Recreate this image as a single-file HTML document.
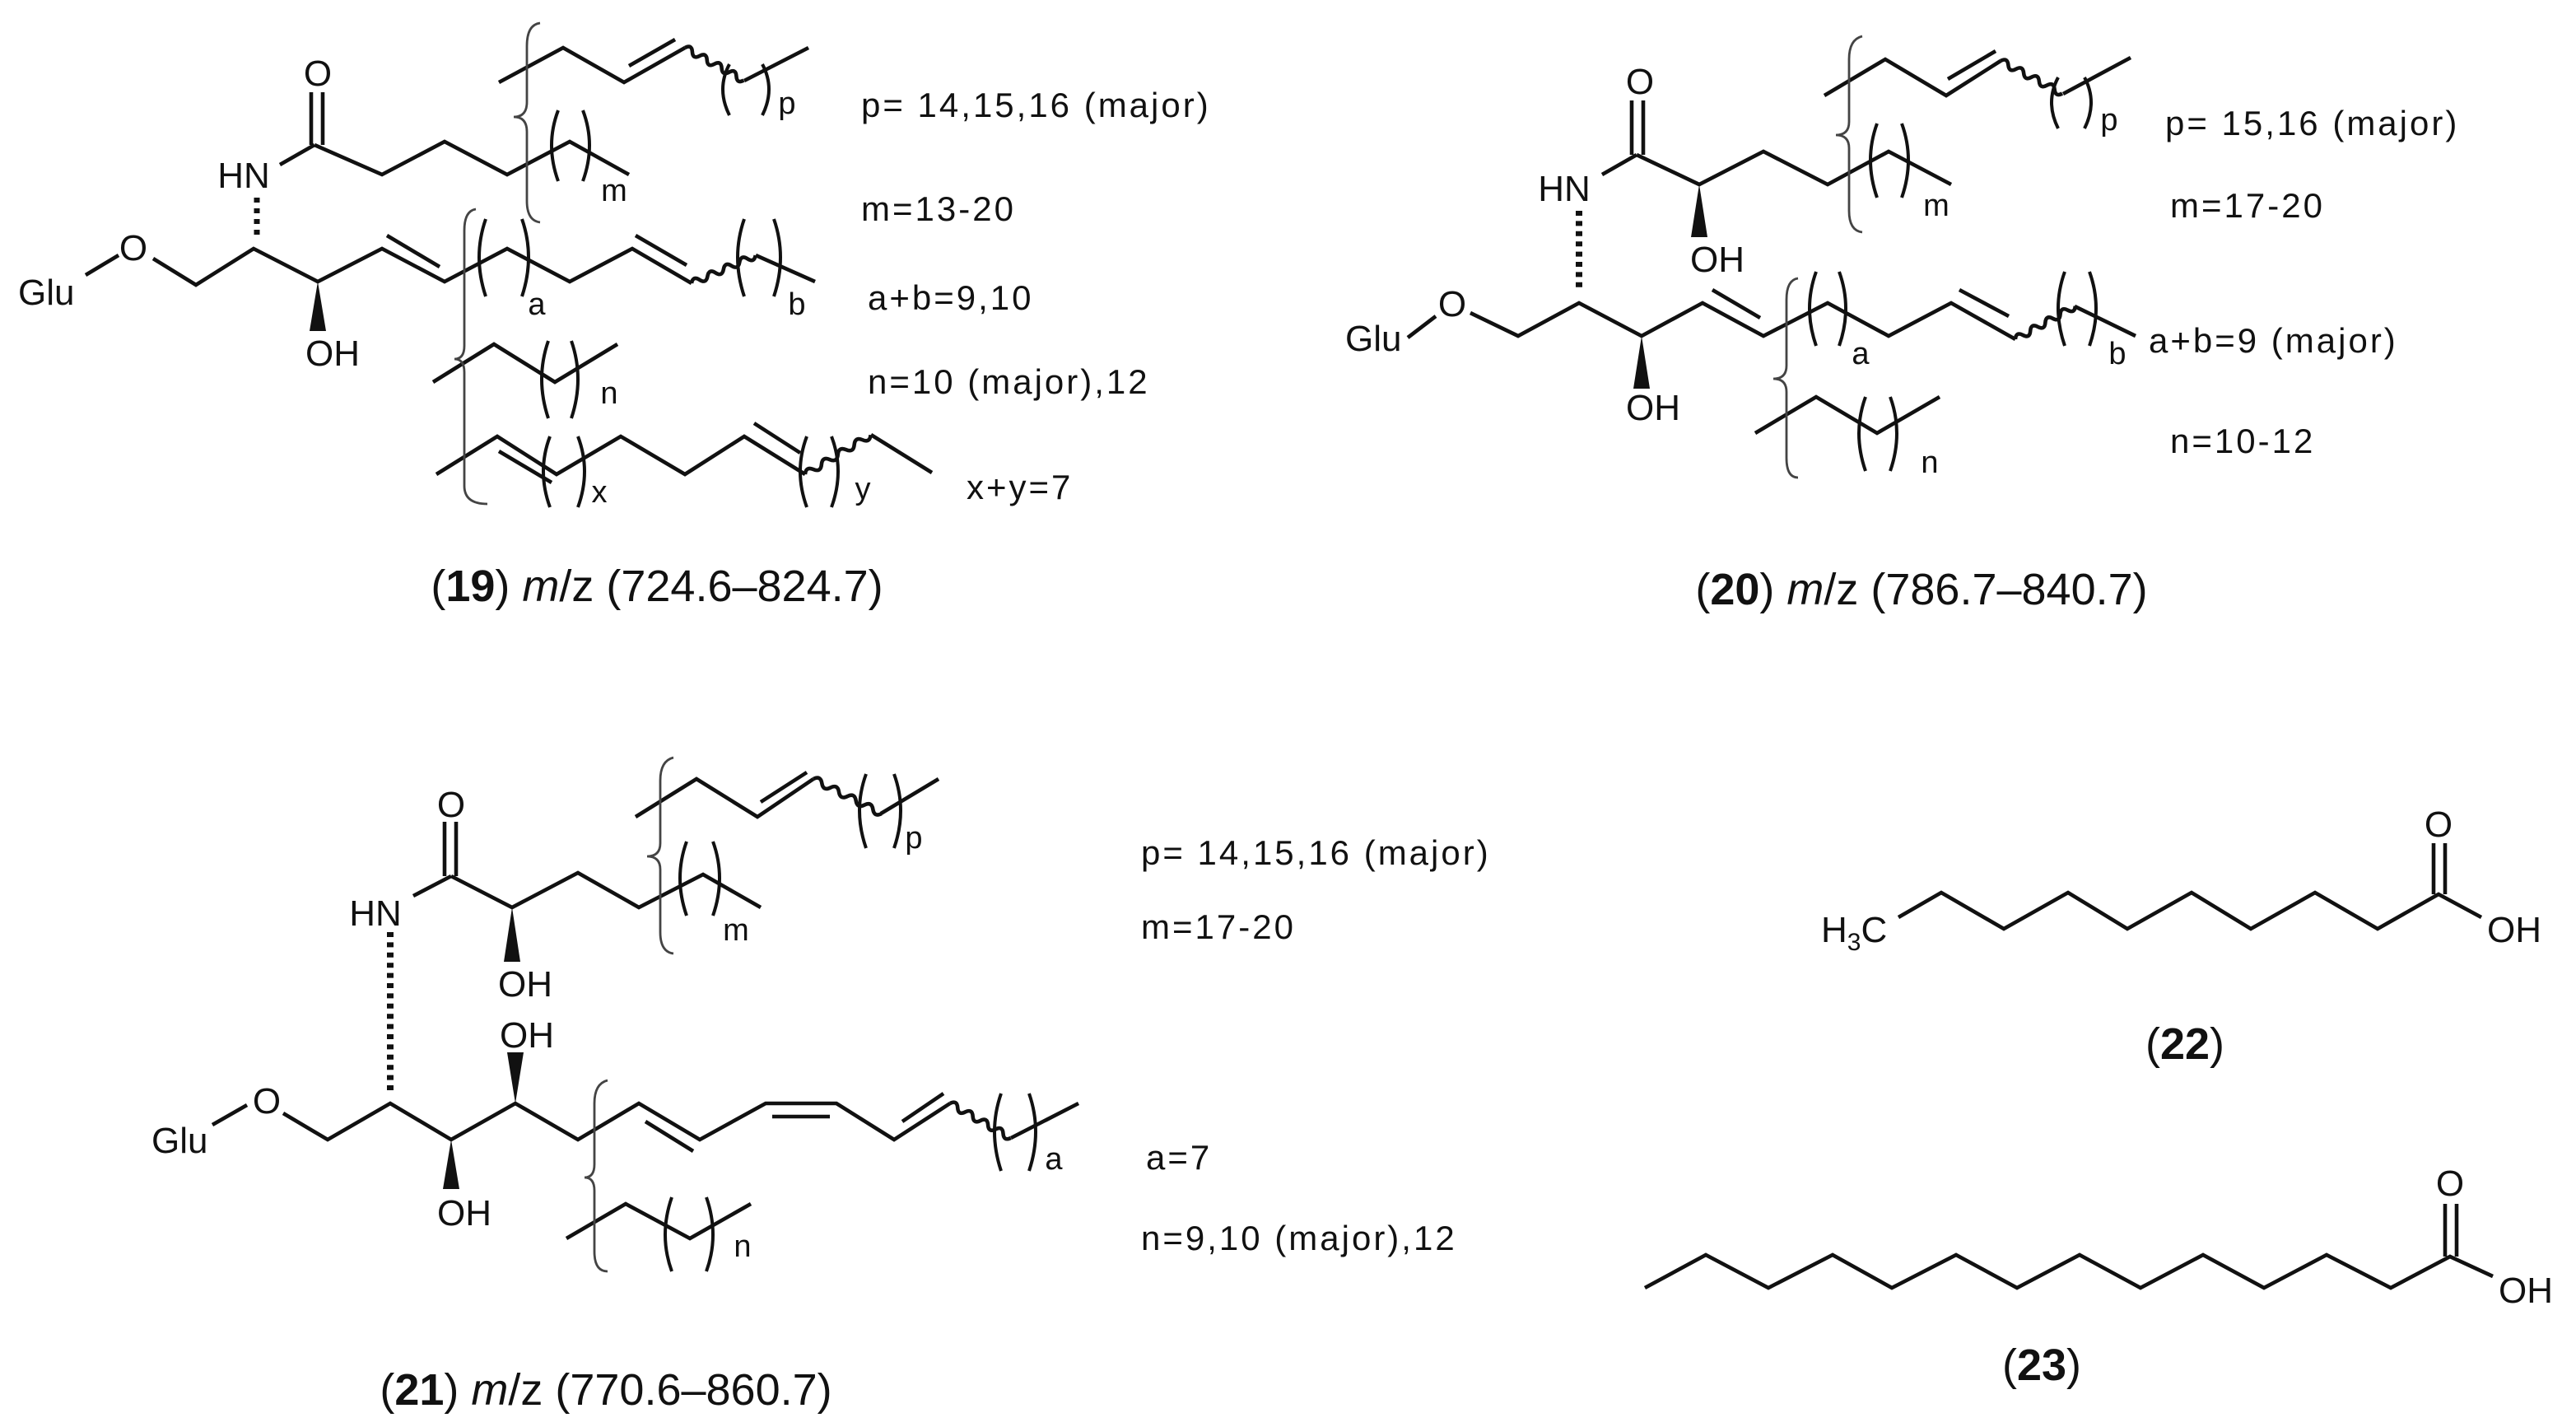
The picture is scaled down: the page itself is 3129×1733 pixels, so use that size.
<!DOCTYPE html>
<html><head><meta charset="utf-8"><style>
html,body{margin:0;padding:0;background:#fff;}
svg{display:block;}
text{font-family:"Liberation Sans",Arial,sans-serif;fill:#111;}
.a{font-size:22px;}
.s{font-size:19px;}
.l{font-size:21px;letter-spacing:1.5px;}
.c{font-size:27px;}
</style></head><body>
<svg width="3129" height="1733" viewBox="0 0 1564.5 866.5" xmlns="http://www.w3.org/2000/svg">
<rect width="1564.5" height="866.5" fill="#fff"/>
<g fill="none" stroke="#111" stroke-width="2.3" stroke-linejoin="miter">
<!-- ===== 19 ===== -->
<line x1="52" y1="167" x2="72" y2="155"/>
<polyline points="93,157 119,173 154,151 193,171 232,151 270,171 308,151 346,171 384,151 420,172"/>
<line x1="235" y1="143" x2="267" y2="162"/>
<line x1="386" y1="143" x2="417" y2="161"/>
<path d="M0,0 q2.65,-4 5.3,0 t5.3,0 t5.3,0 t5.3,0 t5.3,0 t5.3,0 t5.3,0 t5.3,0" transform="translate(420,172) rotate(-23.6)"/>
<line x1="459" y1="155" x2="495" y2="171"/>
<line x1="170" y1="100" x2="191" y2="88"/>
<polyline points="191,88 232,106 270,86 308,106 346,86 382,106"/>
<line x1="189" y1="56" x2="189" y2="88"/><line x1="196" y1="56" x2="196" y2="88"/>
<line x1="156" y1="120" x2="156" y2="146" stroke-width="3.5" stroke-dasharray="3,3.5"/>
<polyline points="303,50 342,29 379,50 416,29"/>
<line x1="382" y1="40" x2="410" y2="24"/>
<path d="M0,0 q2.55,-4 5.1,0 t5.1,0 t5.1,0 t5.1,0 t5.1,0 t5.1,0 t5.1,0 t5.1,0" transform="translate(416,29) rotate(29)"/>
<line x1="452" y1="49" x2="491" y2="29"/>
<polyline points="263,232 300,209 337,232 375,209"/>
<polyline points="265,288 302,265 338,288 377,265 416,288 452,265 489,288"/>
<line x1="303" y1="274" x2="335" y2="293"/>
<line x1="458" y1="257" x2="486" y2="275"/>
<path d="M0,0 q2.9,-4 5.8,0 t5.8,0 t5.8,0 t5.8,0 t5.8,0 t5.8,0 t5.8,0 t5.8,0" transform="translate(489,288) rotate(-31)"/>
<line x1="529" y1="264" x2="566" y2="287"/>
<g stroke-width="2">
<path d="M295,133 Q287,156 295,180"/><path d="M317,133 Q325,156 317,180"/>
<path d="M339,67 Q331,88 339,110"/><path d="M354,67 Q362,88 354,110"/>
<path d="M452,133 Q444,156 452,180"/><path d="M470,133 Q478,156 470,180"/>
<path d="M443,39 Q435,54 443,70"/><path d="M463,39 Q471,54 463,70"/>
<path d="M333,207 Q325,230 333,254"/><path d="M347,207 Q355,230 347,254"/>
<path d="M334,265 Q326,286 334,308"/><path d="M351,265 Q359,286 351,308"/>
<path d="M490,265 Q482,286 490,308"/><path d="M505,265 Q513,286 505,308"/>
</g>
<g stroke="#444" stroke-width="1.4">
<path d="M328,14 Q320,15 320,28 L320,62 Q320,71 312,71 Q320,71 320,80 L320,122 Q320,134 328,135"/>
<path d="M289,127 Q282,128 282,140 L282,210 Q282,218 276,218 Q282,218 282,226 L282,295 Q282,306 296,306"/>
</g>

<!-- ===== 20 ===== -->
<line x1="855" y1="205" x2="872" y2="192"/>
<polyline points="893,190 922,204 959,184 997,204 1034,184 1071,204 1110,184 1147,204 1185,184 1224,206"/>
<line x1="1040" y1="176" x2="1069" y2="193"/>
<line x1="1190" y1="176" x2="1220" y2="192"/>
<path d="M0,0 q2.6,-4 5.2,0 t5.2,0 t5.2,0 t5.2,0 t5.2,0 t5.2,0 t5.2,0 t5.2,0" transform="translate(1224,206) rotate(-29)"/>
<line x1="1260" y1="186" x2="1297" y2="204"/>
<line x1="959" y1="128" x2="959" y2="177" stroke-width="4" stroke-dasharray="3,3.2"/>
<line x1="973" y1="106" x2="994" y2="94"/>
<line x1="991" y1="61" x2="991" y2="94"/><line x1="998" y1="61" x2="998" y2="94"/>
<polyline points="994,94 1032,112 1071,92 1110,112 1147,92 1185,112"/>
<polyline points="1108,58 1145,36 1182,58 1215,37"/>
<line x1="1183" y1="48" x2="1212" y2="31"/>
<path d="M0,0 q2.65,-4 5.3,0 t5.3,0 t5.3,0 t5.3,0 t5.3,0 t5.3,0 t5.3,0 t5.3,0" transform="translate(1215,37) rotate(27.8)"/>
<line x1="1253" y1="57" x2="1294" y2="35"/>
<polyline points="1066,263 1103,241 1140,263 1178,241"/>
<g stroke-width="2">
<path d="M1140,75 Q1132,97 1140,120"/><path d="M1155,75 Q1163,97 1155,120"/>
<path d="M1250,47 Q1242,62 1250,78"/><path d="M1266,47 Q1274,62 1266,78"/>
<path d="M1103,165 Q1095,187 1103,210"/><path d="M1117,165 Q1125,187 1117,210"/>
<path d="M1254,165 Q1246,187 1254,210"/><path d="M1269,165 Q1277,187 1269,210"/>
<path d="M1133,241 Q1125,263 1133,286"/><path d="M1148,241 Q1156,263 1148,286"/>
</g>
<g stroke="#444" stroke-width="1.4">
<path d="M1131,22 Q1123,24 1123,36 L1123,74 Q1123,82 1115,82 Q1123,82 1123,90 L1123,128 Q1123,140 1131,141"/>
<path d="M1092,169 Q1085,170 1085,182 L1085,222 Q1085,230 1077,230 Q1085,230 1085,238 L1085,278 Q1085,290 1092,290"/>
</g>

<!-- ===== 21 ===== -->
<line x1="129" y1="683" x2="150" y2="671"/>
<polyline points="172,676 199,692 237,670 274,692 313,670 351,692 388,670 425,692 465,670 508,670 543,692 577,670"/>
<line x1="392" y1="681" x2="421" y2="699"/>
<line x1="469" y1="678" x2="504" y2="678"/>
<line x1="548" y1="681" x2="573" y2="664"/>
<path d="M0,0 q2.65,-4 5.3,0 t5.3,0 t5.3,0 t5.3,0 t5.3,0 t5.3,0 t5.3,0 t5.3,0" transform="translate(577,670) rotate(29.6)"/>
<line x1="614" y1="691" x2="655" y2="670"/>
<line x1="237" y1="566" x2="237" y2="663" stroke-width="4" stroke-dasharray="3,3.2"/>
<line x1="251" y1="544" x2="274" y2="532"/>
<line x1="270" y1="499" x2="270" y2="532"/><line x1="277" y1="499" x2="277" y2="532"/>
<polyline points="274,532 311,551 351,530 388,551 427,531 462,551"/>
<polyline points="386,496 423,473 460,496 494,473"/>
<line x1="462" y1="487" x2="490" y2="469"/>
<path d="M0,0 q2.9,-4 5.8,0 t5.8,0 t5.8,0 t5.8,0 t5.8,0 t5.8,0 t5.8,0 t5.8,0" transform="translate(494,473) rotate(27)"/>
<line x1="535" y1="494" x2="570" y2="473"/>
<polyline points="344,752 380,731 419,752 456,731"/>
<g stroke-width="2">
<path d="M608,664 Q600,687 608,711"/><path d="M625,664 Q633,687 625,711"/>
<path d="M417,511 Q409,533 417,556"/><path d="M433,511 Q441,533 433,556"/>
<path d="M526,470 Q518,492 526,515"/><path d="M543,470 Q551,492 543,515"/>
<path d="M408,727 Q400,750 408,772"/><path d="M429,727 Q437,750 429,772"/>
</g>
<g stroke="#444" stroke-width="1.4">
<path d="M409,460 Q401,462 401,474 L401,512 Q401,520 393,520 Q401,520 401,528 L401,566 Q401,578 409,579"/>
<path d="M369,656 Q361,658 361,670 L361,707 Q361,715 355,715 Q361,715 361,723 L361,760 Q361,772 369,772"/>
</g>

<!-- ===== 22 ===== -->
<polyline points="1153,557 1179,542 1217,564 1256,542 1292,564 1331,542 1367,564 1406,542 1444,564 1481,543 1507,557"/>
<line x1="1478" y1="512" x2="1478" y2="543"/><line x1="1485" y1="512" x2="1485" y2="543"/>
<!-- ===== 23 ===== -->
<polyline points="999,782 1036,762 1074,782 1113,762 1149,782 1188,762 1225,782 1263,762 1300,782 1338,762 1375,782 1413,762 1452,782 1488,763 1514,775"/>
<line x1="1485" y1="731" x2="1485" y2="763"/><line x1="1492" y1="731" x2="1492" y2="763"/>
</g>
<g fill="#111">
<polygon points="193,171 188,201 198,201"/>
<polygon points="997,204 992,236 1002,236"/>
<polygon points="1032,112 1027,144 1037,144"/>
<polygon points="311,551 306,584 316,584"/>
<polygon points="313,670 308,639 318,639"/>
<polygon points="274,692 269,722 279,722"/>
</g>

<!-- atom labels 19 -->
<text class="a" x="11" y="185">Glu</text>
<text class="a" x="81" y="158" text-anchor="middle">O</text>
<text class="a" x="148" y="114" text-anchor="middle">HN</text>
<text class="a" x="193" y="52" text-anchor="middle">O</text>
<text class="a" x="202" y="222" text-anchor="middle">OH</text>
<text class="s" x="326" y="191" text-anchor="middle">a</text>
<text class="s" x="484" y="191" text-anchor="middle">b</text>
<text class="s" x="373" y="122" text-anchor="middle">m</text>
<text class="s" x="478" y="69" text-anchor="middle">p</text>
<text class="s" x="370" y="245" text-anchor="middle">n</text>
<text class="s" x="364" y="305" text-anchor="middle">x</text>
<text class="s" x="524" y="303" text-anchor="middle">y</text>
<text class="l" x="523" y="71">p= 14,15,16 (major)</text>
<text class="l" x="523" y="134">m=13-20</text>
<text class="l" x="527" y="188">a+b=9,10</text>
<text class="l" x="527" y="239">n=10 (major),12</text>
<text class="l" x="587" y="303">x+y=7</text>
<text class="c" x="399" y="365" text-anchor="middle">(<tspan font-weight="bold">19</tspan>) <tspan font-style="italic">m</tspan>/z (724.6–824.7)</text>

<!-- 20 -->
<text class="a" x="817" y="213">Glu</text>
<text class="a" x="882" y="192" text-anchor="middle">O</text>
<text class="a" x="950" y="122" text-anchor="middle">HN</text>
<text class="a" x="996" y="57" text-anchor="middle">O</text>
<text class="a" x="1004" y="255" text-anchor="middle">OH</text>
<text class="a" x="1043" y="165" text-anchor="middle">OH</text>
<text class="s" x="1176" y="131" text-anchor="middle">m</text>
<text class="s" x="1281" y="79" text-anchor="middle">p</text>
<text class="s" x="1130" y="221" text-anchor="middle">a</text>
<text class="s" x="1286" y="221" text-anchor="middle">b</text>
<text class="s" x="1172" y="287" text-anchor="middle">n</text>
<text class="l" x="1315" y="82">p= 15,16 (major)</text>
<text class="l" x="1318" y="132">m=17-20</text>
<text class="l" x="1305" y="214">a+b=9 (major)</text>
<text class="l" x="1318" y="275">n=10-12</text>
<text class="c" x="1167" y="367" text-anchor="middle">(<tspan font-weight="bold">20</tspan>) <tspan font-style="italic">m</tspan>/z (786.7–840.7)</text>

<!-- 21 -->
<text class="a" x="92" y="700">Glu</text>
<text class="a" x="162" y="676" text-anchor="middle">O</text>
<text class="a" x="228" y="562" text-anchor="middle">HN</text>
<text class="a" x="274" y="496" text-anchor="middle">O</text>
<text class="a" x="319" y="605" text-anchor="middle">OH</text>
<text class="a" x="320" y="636" text-anchor="middle">OH</text>
<text class="a" x="282" y="744" text-anchor="middle">OH</text>
<text class="s" x="447" y="571" text-anchor="middle">m</text>
<text class="s" x="555" y="515" text-anchor="middle">p</text>
<text class="s" x="640" y="710" text-anchor="middle">a</text>
<text class="s" x="451" y="763" text-anchor="middle">n</text>
<text class="l" x="693" y="525">p= 14,15,16 (major)</text>
<text class="l" x="693" y="570">m=17-20</text>
<text class="l" x="696" y="710">a=7</text>
<text class="l" x="693" y="759">n=9,10 (major),12</text>
<text class="c" x="368" y="853" text-anchor="middle">(<tspan font-weight="bold">21</tspan>) <tspan font-style="italic">m</tspan>/z (770.6–860.7)</text>

<!-- 22 / 23 -->
<text class="a" x="1106" y="572">H<tspan font-size="15" dy="5">3</tspan><tspan dy="-5">C</tspan></text>
<text class="a" x="1481" y="508" text-anchor="middle">O</text>
<text class="a" x="1527" y="572" text-anchor="middle">OH</text>
<text class="c" x="1327" y="643" text-anchor="middle">(<tspan font-weight="bold">22</tspan>)</text>
<text class="a" x="1488" y="726" text-anchor="middle">O</text>
<text class="a" x="1534" y="791" text-anchor="middle">OH</text>
<text class="c" x="1240" y="838" text-anchor="middle">(<tspan font-weight="bold">23</tspan>)</text>
</svg>
</body></html>
